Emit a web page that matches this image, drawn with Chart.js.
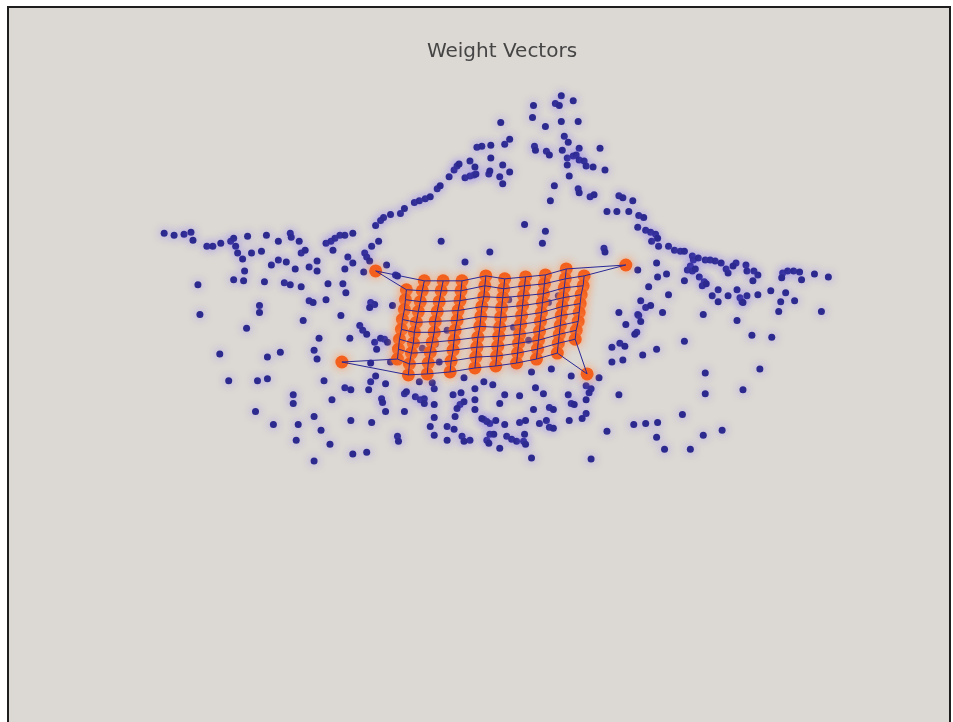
<!DOCTYPE html>
<html>
<head>
<meta charset="utf-8">
<title>Weight Vectors</title>
<script src="https://cdn.jsdelivr.net/npm/chart.js@4.4.1/dist/chart.umd.min.js"></script>
<style>
  html, body { margin: 0; padding: 0; background: #ffffff; overflow: hidden; }
  #frame {
    position: absolute; left: 7px; top: 6px; width: 940px; height: 760px;
    border: 2px solid #1e1e1e; border-bottom: none; background: #dcd8d3;
  }
  #chart { position: absolute; left: 0; top: 0; }
</style>
</head>
<body>
<div id="frame"></div>
<canvas id="chart" width="953" height="722"></canvas>
<script>
// Figure title
const chartTitle = 'Weight Vectors';

// Input vectors (x, y) in plot units
const samplePoints = [
  [165,235],[175,237],[185,236],[192,234],[194,242],[208,248],[214,248],[222,245],[232,243],[235,240],
  [237,248],[239,255],[244,261],[249,238],[253,255],[263,253],[246,273],[268,237],[273,267],[280,243],
  [280,262],[288,264],[292,235],[293,239],[301,243],[303,255],[307,252],[297,271],[311,269],[319,263],
  [319,273],[328,245],[333,243],[337,240],[342,237],[347,237],[355,235],[335,252],[350,259],[355,265],
  [347,271],[367,255],[369,259],[372,263],[366,274],[374,248],[381,243],[378,227],[383,222],[386,219],
  [393,216],[403,215],[407,210],[417,204],[422,202],[428,200],[433,198],[440,190],[443,187],[452,178],
  [457,171],[460,167],[462,165],[468,179],[473,177],[477,176],[479,175],[473,162],[478,168],[480,148],
  [485,147],[494,146],[494,159],[492,175],[493,172],[503,178],[506,166],[506,185],[513,173],[508,145],
  [513,140],[504,123],[537,106],[536,118],[538,147],[539,151],[528,226],[444,243],[493,254],[468,264],
  [389,267],[398,277],
  [565,96],[577,101],[559,104],[563,106],[549,127],[565,122],[582,122],[550,152],[553,156],[568,137],
  [572,143],[566,151],[583,149],[604,149],[571,159],[577,157],[580,156],[583,161],[588,162],[590,167],
  [597,168],[571,166],[609,171],[573,177],[558,187],[554,202],[582,190],[583,194],[594,198],[598,196],
  [623,197],[627,199],[637,202],[611,213],[621,213],[633,213],[643,217],[648,219],[642,229],[650,232],
  [655,234],[660,236],[656,243],[663,248],[662,240],[673,248],[679,252],[685,253],[689,253],[697,258],
  [698,262],[695,268],[703,260],[710,262],[715,262],[720,263],[726,265],[731,271],[733,275],[741,265],
  [738,268],[751,267],[752,273],[759,273],[763,277],[788,275],[793,273],[799,273],[805,274],[807,282],
  [787,280],[820,276],[834,279],[692,272],[697,273],[700,271],[689,283],[704,279],[709,284],[707,288],
  [711,286],[661,265],[662,279],[671,276],[653,289],[673,297],[723,292],[717,298],[723,304],[733,298],
  [742,292],[745,300],[747,304],[752,298],[763,297],[776,293],[791,295],[786,304],[800,303],[784,314],
  [827,314],[549,233],[546,245],[608,250],[609,254],[642,272],[645,303],[650,310],[655,308],[623,315],
  [642,317],[667,315],[708,317],[758,283],[748,305],[742,323],[757,338],[777,340],[765,372],[748,393],
  [199,287],[235,282],[245,283],[266,284],[286,285],[292,287],[303,289],[330,286],[345,286],[348,295],
  [328,302],[311,303],[315,305],[201,317],[261,308],[261,315],[343,318],[305,323],[373,305],[377,307],
  [372,310],[248,331],[362,328],[365,333],[369,337],[352,341],[321,341],[377,345],[387,342],[379,352],
  [221,357],[269,360],[282,355],[316,353],[319,362],[373,366],[230,384],[259,384],[269,382],[326,384],
  [295,398],[295,407],[334,403],[347,391],[353,393],[373,385],[371,393],[378,379],[388,387],[384,402],
  [385,406],[388,415],[257,415],[275,428],[300,428],[316,420],[323,434],[298,444],[332,448],[353,424],
  [374,426],[355,458],[369,456],[316,465],[400,440],[401,445],[407,397],[409,395],[407,415],[418,400],
  [423,403],[427,402],[427,407],[437,408],[437,392],[450,430],[457,433],[456,398],[464,396],[463,408],
  [467,405],[460,412],[478,392],[478,403],[478,413],[487,423],[493,427],[437,421],[458,420],[465,440],
  [473,444],[467,445],[437,439],[450,444],[490,444],[433,430],
  [630,327],[643,318],[645,324],[641,335],[639,337],[616,350],[624,346],[629,349],[661,352],[647,358],
  [689,344],[616,365],[627,363],[710,376],[710,397],[603,381],[590,389],[595,392],[593,396],[575,379],
  [623,398],[572,398],[575,407],[578,408],[590,403],[590,417],[586,422],[573,424],[553,411],[557,413],
  [547,397],[539,391],[537,413],[523,399],[508,398],[503,407],[496,388],[543,427],[550,424],[553,431],
  [557,432],[523,426],[529,424],[508,428],[499,424],[490,425],[485,422],[493,438],[497,438],[492,447],
  [510,440],[515,443],[520,445],[527,445],[529,448],[528,438],[503,452],[535,462],[595,463],[611,435],
  [638,428],[650,427],[662,426],[661,441],[669,453],[695,453],[687,418],[708,439],[727,434],
  [400,278],[395,308],[383,341],[390,345],[393,365],[425,351],[438,347],[450,333],[458,343],[442,365],
  [422,385],[435,386],[467,381],[487,385],[555,372],[535,375],[518,368],[498,368],[552,305],[562,298],
  [512,302],[517,330],[532,343],[542,323],[565,322]
];

// 10 x 10 map neuron weights, one inner array per map row (columns 0..9)
const gridX = [
  [378,427,446,465,489,508,529,549,570,630],
  [409,425,444,464,488,507,528,548,569,588],
  [408,423,442,463,487,506,527,547,568,587],
  [407,421,440,461,485,505,526,546,567,585],
  [405,419,438,460,484,504,525,545,566,584],
  [404,417,437,458,483,503,524,544,565,583],
  [402,416,435,457,481,502,523,543,564,582],
  [401,414,433,456,480,501,522,542,563,580],
  [400,412,431,454,479,500,521,541,562,579],
  [344,411,430,453,478,499,520,540,561,591]
];
const gridY = [
  [273,283,283,283,278,281,279,277,271,267],
  [292,293,293,293,288,291,288,286,281,278],
  [302,304,304,303,299,300,298,296,290,288],
  [312,314,314,313,309,310,308,305,300,297],
  [322,325,324,323,319,320,318,315,309,306],
  [332,335,335,333,329,330,327,324,318,315],
  [342,346,345,343,340,339,337,334,328,324],
  [352,356,355,353,350,349,346,343,337,333],
  [362,367,366,364,360,359,356,352,346,342],
  [365,378,377,375,371,369,366,362,356,377]
];

const rowsN = gridX.length;
const colsN = gridX[0].length;

// Soft glow around markers
const glowPlugin = {
  id: 'glow',
  beforeDatasetDraw(chart, args) {
    const ds = chart.data.datasets[args.index];
    chart.ctx.save();
    if (ds.glowColor) {
      chart.ctx.shadowColor = ds.glowColor;
      chart.ctx.shadowBlur = ds.glowBlur;
    }
  },
  afterDatasetDraw(chart) {
    chart.ctx.restore();
  }
};

const datasets = [];

// neighbour links along map rows and columns
for (let r = 0; r < rowsN; r++) {
  const pts = [];
  for (let c = 0; c < colsN; c++) pts.push({ x: gridX[r][c], y: gridY[r][c] });
  datasets.push({ data: pts, showLine: true, pointRadius: 0, borderColor: '#2a2896', borderWidth: 1, order: 0 });
}
for (let c = 0; c < colsN; c++) {
  const pts = [];
  for (let r = 0; r < rowsN; r++) pts.push({ x: gridX[r][c], y: gridY[r][c] });
  datasets.push({ data: pts, showLine: true, pointRadius: 0, borderColor: '#2a2896', borderWidth: 1, order: 0 });
}

// neurons
const neuronPts = [];
for (let r = 0; r < rowsN; r++)
  for (let c = 0; c < colsN; c++) neuronPts.push({ x: gridX[r][c], y: gridY[r][c] });
datasets.push({
  data: neuronPts, pointRadius: 6.5, borderWidth: 0,
  backgroundColor: '#f3601d', glowColor: 'rgba(255,150,90,0.95)', glowBlur: 8, order: 1
});

// input vectors
datasets.push({
  data: samplePoints.map(p => ({ x: p[0], y: p[1] })), pointRadius: 3.5, borderWidth: 0,
  backgroundColor: '#2c2a8e', glowColor: 'rgba(125,105,255,0.65)', glowBlur: 8, order: 2
});

new Chart(document.getElementById('chart'), {
  type: 'scatter',
  data: { datasets },
  plugins: [glowPlugin],
  options: {
    responsive: false,
    animation: false,
    events: [],
    layout: { padding: { left: 51, right: 0, top: 0, bottom: 0 } },
    plugins: {
      legend: { display: false },
      tooltip: { enabled: false },
      title: {
        display: true, text: chartTitle, color: '#454545',
        font: { family: 'DejaVu Sans', size: 20, weight: 'normal', lineHeight: 1.2 },
        padding: { top: 40, bottom: 0 }
      }
    },
    scales: {
      x: { type: 'linear', display: false, min: 51, max: 953 },
      y: { type: 'linear', display: false, min: 64, max: 722, reverse: true }
    }
  }
});
</script>
</body>
</html>
